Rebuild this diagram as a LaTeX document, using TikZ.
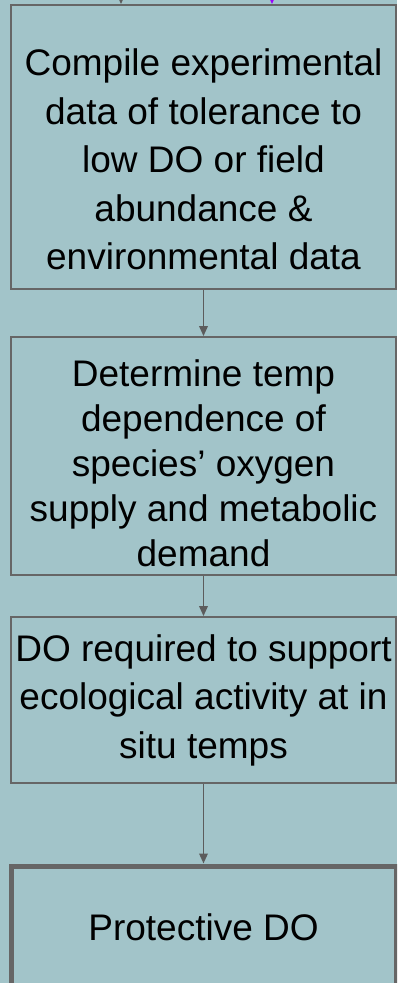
\documentclass[tikz,border=0pt]{standalone}
\usepackage{fontspec}
\setmainfont{Liberation Sans}
\usetikzlibrary{arrows.meta}
\definecolor{slatecyan}{HTML}{A2C4C9}
\definecolor{boxgrey}{HTML}{666666}
\definecolor{flowpurple}{HTML}{9900FF}

\begin{document}
\begin{tikzpicture}[>={Triangle[length=10pt, width=8.5pt]}, x=1pt, y=-1pt,
  flowbox/.style={draw=boxgrey, line width=1.8pt, fill=slatecyan, minimum width=385pt,
    align=center, inner sep=0pt, font=\fontsize{37}{48.5}\selectfont},
  flowarrow/.style={->, draw=boxgrey!90!black, line width=1.8pt}]
  \clip (0,0) rectangle (397,983);
  \fill[slatecyan] (0,0) rectangle (397,983);
  \node[flowbox, minimum height=284pt] (compile) at (203.5,147)
    {\rule{0pt}{51.5pt}Compile experimental\\data of tolerance to\\low DO or field\\abundance \&\\environmental data};
  \node[flowbox, minimum height=238pt, font=\fontsize{37}{45}\selectfont] (tempdep) at (203.5,456)
    {\rule{0pt}{41.5pt}Determine temp\\dependence of\\species’ oxygen\\supply and metabolic\\demand};
  \node[flowbox, minimum height=166pt] (doreq) at (203.5,700)
    {DO required to support\\ecological activity at in\\situ temps};
  \node[flowbox, minimum height=122pt, line width=5pt] (protect) at (203.5,927) {Protective DO};
  \coordinate (ingrey) at (121,-20);
  \coordinate (inpurple) at (272,-20);
  \draw[flowarrow] (ingrey) -- (ingrey |- compile.north);
  \draw[flowarrow, draw=flowpurple] (inpurple) -- (inpurple |- compile.north);
  \draw[flowarrow] (compile) -- (tempdep);
  \draw[flowarrow] (tempdep) -- (doreq);
  \draw[flowarrow] (doreq) -- (protect);
\end{tikzpicture}
\end{document}
